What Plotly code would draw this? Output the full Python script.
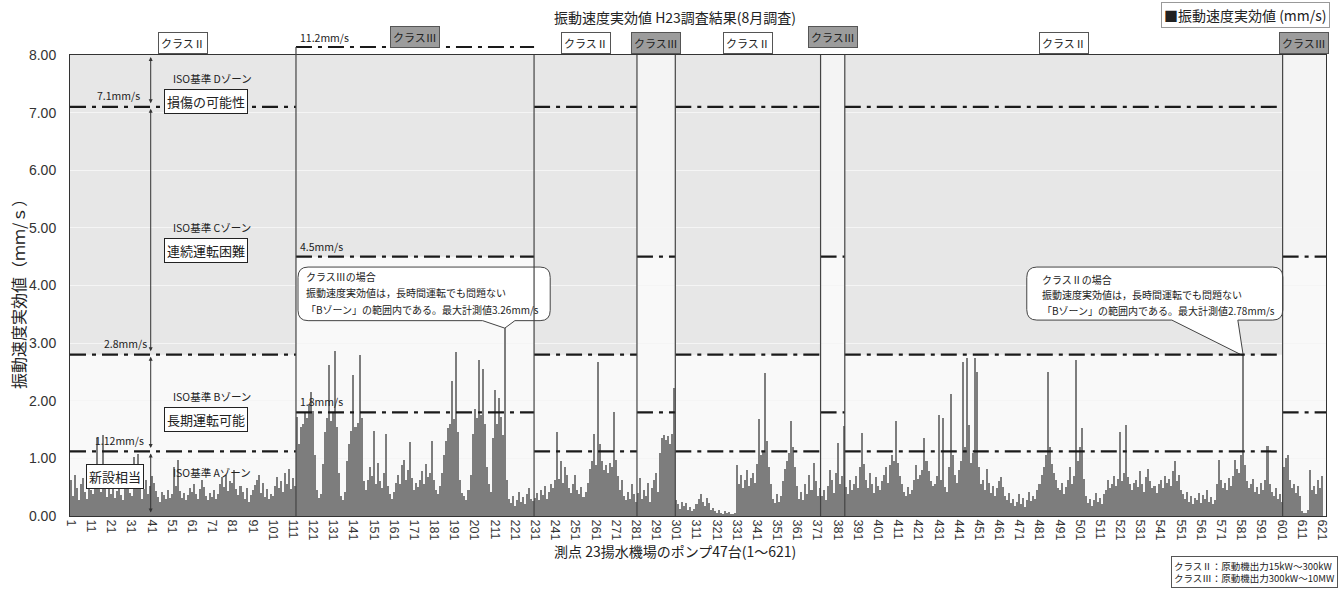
import plotly.graph_objects as go

# Vibration velocity RMS (mm/s) per measuring point, in pump-group blocks
block_1 = [0.62, 0.35, 0.71, 0.48, 0.28, 0.55, 0.66, 0.41, 0.30, 0.52,
           0.45, 0.38, 0.60, 1.36, 0.50, 0.42, 1.40, 0.58, 0.33, 0.47,
           0.39, 0.52, 0.31, 0.44, 0.63, 0.36, 0.28, 0.49, 0.55, 0.40,
           0.35, 1.02, 0.48, 1.08, 0.57, 0.30, 0.46, 0.62, 0.38, 0.52,
           0.70, 0.58, 0.44, 0.33, 0.25, 0.41, 0.36, 0.29, 0.45, 0.32,
           0.38, 0.85, 0.52, 0.98, 0.44, 0.31, 0.40, 0.27, 0.36, 0.48,
           0.42, 0.55, 0.38, 0.30, 0.47, 0.62, 0.51, 0.35, 0.28, 0.40,
           0.33, 0.45, 0.29, 0.38, 0.56, 0.68, 0.50, 0.72, 0.44, 0.61,
           0.58, 0.80, 0.47, 0.36, 0.52, 0.41, 0.30, 0.48, 0.25, 0.37,
           0.45, 0.54, 0.62, 0.71, 0.40, 0.58, 0.33, 0.46, 0.29, 0.38,
           0.35, 0.52, 0.68, 0.48, 0.60, 0.42, 0.75, 0.55, 0.81, 0.47, 0.66, 0.52]
block_2 = [1.72, 1.25, 1.55, 1.60, 1.78, 1.70, 1.95, 2.15, 1.82, 1.05,
           0.45, 0.32, 0.38,
           0.90, 1.45, 1.70, 2.62, 1.65, 1.80, 2.86, 1.55, 0.75,
           0.35, 0.28, 0.42,
           0.95, 1.25, 1.48, 2.45, 1.55, 1.62, 2.80, 1.70, 0.60,
           0.45, 0.62, 0.85, 0.70, 1.48, 0.55, 0.92, 0.60, 0.48, 0.75, 1.42, 0.52, 0.38, 0.30,
           0.42, 0.58, 0.72, 0.55, 0.88, 0.97, 0.62, 0.80, 1.28, 0.66, 0.45, 0.58,
           0.50, 0.62, 0.78, 0.55, 0.90, 0.68, 0.74, 1.30, 0.62, 0.45, 0.38, 0.52,
           0.75, 1.05, 1.30, 1.52, 1.60, 2.35, 1.68, 2.85, 1.45, 0.62, 0.40,
           0.35, 0.28, 0.45, 0.72,
           1.42, 1.85, 1.70, 2.70, 1.75, 2.55, 1.60, 0.85,
           0.55, 0.42,
           1.35, 2.18, 1.60, 2.05, 1.72, 1.40,
           3.26,
           0.62, 0.30, 0.22, 0.35, 0.18, 0.28, 0.42, 0.25, 0.33, 0.20, 0.38, 0.48, 0.30, 0.26]
block_3 = [0.32, 0.40, 0.28, 0.45, 0.36, 0.52, 0.30, 0.42, 0.55, 0.48, 0.62,
           1.45,
           0.65, 0.95, 0.58, 0.85, 0.72, 0.48, 0.40,
           0.55, 0.72, 0.45, 0.38, 0.50, 0.33, 0.42, 0.58,
           0.82, 0.95, 1.42, 0.88, 2.68, 1.25, 0.95, 0.80, 0.88, 0.75, 0.92, 0.85, 1.80, 0.98, 0.70,
           0.45, 0.62, 0.35, 0.28, 0.42, 0.30, 0.55, 0.38, 0.25]
block_4 = [0.40, 0.66, 0.30, 0.45, 0.35, 0.58, 0.25, 0.48, 0.62, 0.75, 0.42,
           1.10, 1.35, 1.40, 1.32, 1.38, 1.25, 1.42, 2.22]
block_5 = [0.28, 0.20, 0.12, 0.25, 0.18, 0.22, 0.10, 0.15, 0.08, 0.12,
           0.20, 0.30, 0.38, 0.25, 0.18, 0.32, 0.22, 0.10, 0.14, 0.08,
           0.05, 0.10, 0.06, 0.04, 0.08, 0.05, 0.07, 0.04, 0.03, 0.06,
           0.88, 0.55, 0.72, 0.48, 0.62, 0.80, 0.52, 0.66, 0.75, 0.58,
           0.90, 1.68, 1.05, 1.12, 2.48, 1.30, 0.85, 0.55,
           0.30, 0.22, 0.38, 0.25, 0.35, 0.60,
           0.82, 0.95, 1.10, 1.65, 1.20, 0.85, 0.52,
           0.30, 0.42, 0.28, 0.55, 0.38, 0.72, 0.45, 0.92, 0.60, 0.35, 0.48]
block_6 = [0.35, 0.45, 0.28, 0.52, 0.80, 0.62, 0.40, 0.75, 1.27, 0.55, 0.70, 1.56]
block_7 = [0.50, 0.38, 0.62, 0.45, 0.55, 0.70, 0.48, 0.85,
           1.44, 0.90,
           0.62, 0.48, 0.75, 0.55, 0.40, 0.68, 0.52, 0.45, 0.60, 0.72, 0.85, 0.58,
           0.88, 1.06, 0.95, 1.65, 0.92, 0.70,
           0.55, 0.42, 0.35, 0.50, 0.38, 0.45, 0.62,
           0.88, 0.65, 0.72, 0.80, 1.36, 0.95, 0.78, 0.60, 0.52,
           0.55, 0.70, 1.76, 0.62, 1.70, 0.50, 0.42,
           0.85, 2.12, 1.05, 0.72, 0.58,
           0.80, 0.95, 2.68, 1.20, 2.74, 1.58, 0.92, 1.10, 2.75, 2.50, 0.85,
           0.55, 0.62, 0.45, 0.82, 0.58, 0.40, 0.52, 0.35, 0.48, 0.60, 0.68, 0.50,
           0.35, 0.28, 0.40, 0.22, 0.30, 0.18, 0.25, 0.38, 0.20, 0.32, 0.15, 0.28, 0.42, 0.26, 0.35, 0.30, 0.45,
           0.55, 0.72, 0.85, 1.05, 2.50, 1.20, 0.90, 0.75, 0.62, 0.48,
           0.45, 0.58, 0.38, 0.50, 0.62, 0.85, 0.55,
           0.70, 2.70, 0.95, 1.20, 1.52, 0.65,
           0.35, 0.22, 0.30, 0.18, 0.28, 0.40, 0.25, 0.32, 0.20, 0.38, 0.45,
           0.62, 0.48, 0.55, 0.70, 0.52, 0.65, 1.45, 0.60, 0.75, 1.58, 0.68, 0.55,
           0.45, 0.58, 0.62, 0.50, 0.78, 0.55, 0.42, 0.68, 0.82, 0.60, 0.48, 0.52, 0.40,
           0.55, 0.62, 0.48, 0.70, 0.58, 0.65, 0.52, 0.78, 0.95, 0.60, 0.72, 0.45,
           0.38, 0.30, 0.42, 0.25, 0.35, 0.20, 0.32, 0.28, 0.40, 0.22, 0.36, 0.30, 0.45, 0.25, 0.33, 0.20, 0.28,
           0.55, 0.97, 0.62, 0.48, 0.58, 0.45, 0.66, 0.52, 0.70, 0.98, 0.82, 0.75, 1.05,
           2.78,
           0.88, 0.60, 0.48, 0.55, 0.65, 0.42, 0.50, 0.38, 0.58, 0.45, 0.62,
           1.22, 0.55,
           0.42, 0.35, 0.48, 0.30, 0.38, 0.25]
block_8 = [0.85, 1.00, 1.06, 0.62, 0.48, 0.55, 0.40, 0.52, 0.35, 0.08,
           0.05, 0.06, 0.10, 0.80, 0.45, 0.52, 0.38, 0.62, 0.48, 0.70]

vibration = block_1 + block_2 + block_3 + block_4 + block_5 + block_6 + block_7 + block_8
points = list(range(1, len(vibration) + 1))

# Machine-class blocks along the point axis
segment_edges = [0.5, 112.5, 230.5, 281.5, 300.5, 372.5, 384.5, 601.5, 623.0]
segment_class = ["Ⅱ", "Ⅲ", "Ⅱ", "Ⅲ", "Ⅱ", "Ⅲ", "Ⅱ", "Ⅲ"]
segment_shade = ["#e7e7e7", "#e7e7e7", "#e7e7e7", "#f4f4f4",
                 "#e7e7e7", "#f4f4f4", "#e7e7e7", "#f4f4f4"]
class_tag_y = [1.026, 1.039, 1.026, 1.026, 1.026, 1.039, 1.026, 1.026]
class_limits = {"Ⅱ": [7.1, 2.8, 1.12], "Ⅲ": [11.2, 4.5, 1.8]}

tick_vals = list(range(1, 622, 10))
tick_text = [str(v) for v in tick_vals]
y_tick_vals = [0, 1, 2, 3, 4, 5, 6, 7, 8]

JP = "Noto Sans CJK JP"
NUM = "Liberation Sans Narrow, Arial Narrow, Liberation Sans, sans-serif"
INK = "#222222"
BAR = "#7d7d7d"
DASH = "16px,6px,4px,6px"
Y_TOP = 8
ABOVE_TOP = 1.0174  # paper height of the 11.2 mm/s reference line


def segment_of(p):
    for i in range(len(segment_class)):
        if segment_edges[i] < p < segment_edges[i + 1]:
            return i
    return len(segment_class) - 1


def class_peak(cls):
    best = None
    for p, v in zip(points, vibration):
        if segment_class[segment_of(p)] == cls and (best is None or v > best[1]):
            best = (p, v)
    return best


fig = go.Figure(go.Bar(
    x=points, y=vibration, name="振動速度実効値 (mm/s)",
    marker=dict(color=BAR, line=dict(width=0)), showlegend=False,
))

shapes = []
annotations = []

# zone shading above the class alarm level
for i, cls in enumerate(segment_class):
    x0, x1 = segment_edges[i], segment_edges[i + 1]
    shapes.append(dict(type="rect", xref="x", yref="y", x0=x0, x1=x1,
                       y0=class_limits[cls][1], y1=Y_TOP,
                       fillcolor=segment_shade[i], line_width=0, layer="below"))


def callout_path(x0, x1, y0, y1, rx, ry, t0, t1, ax, ay):
    return (f"M {x0 + rx},{y1} L {x1 - rx},{y1} Q {x1},{y1} {x1},{y1 - ry} "
            f"L {x1},{y0 + ry} Q {x1},{y0} {x1 - rx},{y0} "
            f"L {t1},{y0} L {ax},{ay} L {t0},{y0} "
            f"L {x0 + rx},{y0} Q {x0},{y0} {x0},{y0 + ry} "
            f"L {x0},{y1 - ry} Q {x0},{y1} {x0 + rx},{y1} Z")


peak3 = class_peak("Ⅲ")
peak2 = class_peak("Ⅱ")
callouts = [
    dict(box=(113.5, 238.5, 3.39, 4.32), tail=(205.0, 221.0), peak=peak3, cls="Ⅲ",
         text_x=116.5, text_y=[4.15, 3.87, 3.59]),
    dict(box=(474.7, 601.6, 3.40, 4.32), tail=(546.6, 579.3), peak=peak2, cls="Ⅱ",
         text_x=481.2, text_y=[4.11, 3.84, 3.56]),
]
for c in callouts:
    x0, x1, y0, y1 = c["box"]
    shapes.append(dict(type="path", xref="x", yref="y", layer="above",
                       path=callout_path(x0, x1, y0, y1, 5.0, 0.18,
                                         c["tail"][0], c["tail"][1],
                                         c["peak"][0], c["peak"][1]),
                       fillcolor="white", line=dict(color="#444", width=1)))
    lines = [f"クラス{c['cls']}の場合",
             "振動速度実効値は，長時間運転でも問題ない",
             f"「Bゾーン」の範囲内である。最大計測値{c['peak'][1]:.2f}mm/s"]
    for txt, ty in zip(lines, c["text_y"]):
        annotations.append(dict(x=c["text_x"], y=ty, xref="x", yref="y", text=txt,
                                showarrow=False, xanchor="left", yanchor="middle",
                                font=dict(family=JP, size=10, color=INK)))

# dash-dot class limit lines
for i, cls in enumerate(segment_class):
    x0, x1 = segment_edges[i], segment_edges[i + 1]
    for lim in class_limits[cls]:
        if lim <= Y_TOP:
            shapes.append(dict(type="line", xref="x", yref="y", x0=x0, x1=x1, y0=lim, y1=lim,
                               line=dict(color="#1a1a1a", width=2.2, dash=DASH), layer="above"))
        elif x1 - x0 > 50:
            shapes.append(dict(type="line", xref="x", yref="paper", x0=x0, x1=x1,
                               y0=ABOVE_TOP, y1=ABOVE_TOP,
                               line=dict(color="#1a1a1a", width=2.2, dash=DASH), layer="above"))

# class block boundaries (the wide class III block's left edge rises to its 11.2 line)
for i, edge in enumerate(segment_edges[1:-1], start=1):
    shapes.append(dict(type="line", xref="x", yref="y", x0=edge, x1=edge, y0=0, y1=Y_TOP,
                       line=dict(color="#444", width=1.2), layer="above"))
    if i == 1:
        shapes.append(dict(type="line", xref="x", yref="paper", x0=edge, x1=edge,
                           y0=1, y1=ABOVE_TOP,
                           line=dict(color="#444", width=1.2), layer="above"))

# class tags above each block
for i, cls in enumerate(segment_class):
    cx = (segment_edges[i] + segment_edges[i + 1]) / 2
    annotations.append(dict(x=cx, y=class_tag_y[i], xref="x", yref="paper",
                            text=f"クラス{cls}", showarrow=False,
                            xanchor="center", yanchor="middle",
                            font=dict(family=JP, size=11, color=INK),
                            bgcolor="white" if cls == "Ⅱ" else "#9c9c9c",
                            bordercolor="#555", borderwidth=1, borderpad=2))

# limit value labels
for lim, lx in zip(class_limits["Ⅱ"], [13.0, 16.5, 12.0]):
    annotations.append(dict(x=lx, y=lim + 0.03, xref="x", yref="y", text=f"{lim}mm/s",
                            showarrow=False, xanchor="left", yanchor="bottom",
                            font=dict(family=JP, size=10.5, color=INK)))
for lim in class_limits["Ⅲ"]:
    above = lim > Y_TOP
    annotations.append(dict(x=113.5, y=ABOVE_TOP if above else lim + 0.02,
                            xref="x", yref="paper" if above else "y", text=f"{lim}mm/s",
                            showarrow=False, xanchor="left", yanchor="bottom",
                            font=dict(family=JP, size=10.5, color=INK)))

# ISO zone notes
zone_notes = [("ISO基準 Dゾーン", 7.60), ("ISO基準 Cゾーン", 5.00),
              ("ISO基準 Bゾーン", 2.07), ("ISO基準 Aゾーン", 0.76)]
for txt, zy in zone_notes:
    annotations.append(dict(x=70.9, y=zy, xref="x", yref="y", text=txt, showarrow=False,
                            xanchor="center", yanchor="middle",
                            font=dict(family=JP, size=10.5, color=INK)))
zone_boxes = [("損傷の可能性", 67.9, 7.20), ("連続運転困難", 67.9, 4.60),
              ("長期運転可能", 67.9, 1.68), ("新設相当", 22.8, 0.68)]
for txt, zx, zy in zone_boxes:
    annotations.append(dict(x=zx, y=zy, xref="x", yref="y", text=txt, showarrow=False,
                            xanchor="center", yanchor="middle",
                            font=dict(family=JP, size=13, color=INK), bgcolor="white",
                            bordercolor="#222", borderwidth=1, borderpad=2))

# zone extent arrows
zone_bounds = [Y_TOP] + class_limits["Ⅱ"] + [0]
for hi, lo in zip(zone_bounds[:-1], zone_bounds[1:]):
    annotations.append(dict(x=40.5, y=hi, ax=40.5, ay=lo, xref="x", yref="y",
                            axref="x", ayref="y", text="", showarrow=True,
                            arrowhead=2, arrowside="end+start", arrowsize=0.8,
                            arrowwidth=1, arrowcolor="#333", standoff=2, startstandoff=2))

# titles and notes
annotations += [
    dict(x=0.4817, y=1.0824, xref="paper", yref="paper", showarrow=False,
         xanchor="center", yanchor="middle",
         text="振動速度実効値 H23調査結果(8月調査)", font=dict(family=JP, size=14, color=INK)),
    dict(x=1.0032, y=1.0868, xref="paper", yref="paper", showarrow=False,
         xanchor="right", yanchor="middle",
         text="■振動速度実効値 (mm/s)", font=dict(family=JP, size=14, color=INK),
         bordercolor="#999", borderwidth=1, borderpad=2, bgcolor="white"),
    dict(x=0.4817, y=-0.0759, xref="paper", yref="paper", showarrow=False,
         xanchor="center", yanchor="middle",
         text="測点 23揚水機場のポンプ47台(1～621)", font=dict(family=JP, size=14, color=INK)),
    dict(x=-0.0414, y=0.49, xref="paper", yref="paper", showarrow=False, textangle=-90,
         xanchor="center", yanchor="middle",
         text="振動速度実効値（ｍｍ/ｓ）", font=dict(family=JP, size=16, color=INK)),
    dict(x=1.0096, y=-0.156, xref="paper", yref="paper", showarrow=False,
         xanchor="right", yanchor="bottom", align="left",
         text="クラスⅡ：原動機出力15kW～300kW<br>クラスⅢ：原動機出力300kW～10MW",
         font=dict(family=JP, size=9.5, color=INK),
         bordercolor="#555", borderwidth=1, borderpad=2, bgcolor="white"),
]

fig.update_layout(
    width=1344, height=591,
    margin=dict(l=70, r=18, t=55, b=75),
    paper_bgcolor="white", plot_bgcolor="#f9f9f9",
    bargap=0,
    font=dict(family=JP, color=INK),
    shapes=shapes, annotations=annotations,
    xaxis=dict(range=[0.5, 623.0], tickmode="array", tickvals=tick_vals, ticktext=tick_text,
               tickangle=90, tickfont=dict(family=NUM, size=12.5, color="#333"),
               showline=True, linecolor="#333", linewidth=1, mirror=True,
               showgrid=False, zeroline=False, ticks=""),
    yaxis=dict(range=[0, Y_TOP], tickmode="array", tickvals=y_tick_vals, tickformat=".2f",
               tickfont=dict(family=NUM, size=14, color="#333"),
               showline=True, linecolor="#333", linewidth=1, mirror=True,
               showgrid=True, gridcolor="#f5f5f5", zeroline=False,
               ticks="outside", ticklen=10, tickcolor="rgba(0,0,0,0)"),
)

fig.write_html("out.html")
